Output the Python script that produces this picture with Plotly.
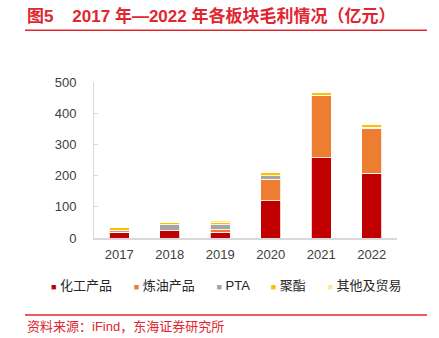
import plotly.graph_objects as go

# Gross profit by segment, 2017-2022 (100 million yuan)
years = ["2017", "2018", "2019", "2020", "2021", "2022"]
chemicals = [17, 23, 19, 119, 258, 207]
refining = [1, 1, 8, 70, 198, 144]
pta = [6, 18, 15, 10, 2, 4]
polyester = [10, 9, 9, 10, 9, 10]
other_trade = [2, 1, 5, 2, 1, 2]

series_names = ["化工产品", "炼油产品", "PTA", "聚酯", "其他及贸易"]
series_values = [chemicals, refining, pta, polyester, other_trade]
series_colors = ["#C00000", "#ED7D31", "#A5A5A5", "#FFC000", "#FFE699"]

FONT = "Liberation Sans, Noto Sans CJK SC, sans-serif"
RED = "#E0262E"

fig = go.Figure()
for name, vals, col in zip(series_names, series_values, series_colors):
    fig.add_trace(go.Bar(
        x=years, y=vals, name=name,
        marker=dict(color=col, line=dict(color="white", width=0.8)),
        showlegend=False,
    ))

# compact legend row built from the series list
legend_text = "      ".join(
    f"<span style='color:{c};font-size:9px'>■</span> {n}"
    for n, c in zip(series_names, series_colors)
)

PH = 156.5  # plot height in px


def py(px_from_top):
    return (338 - px_from_top - 100) / PH


fig.update_layout(
    width=439, height=338,
    margin=dict(l=94, r=42, t=82, b=100),
    barmode="stack", bargap=0.6,
    plot_bgcolor="white", paper_bgcolor="white",
    font=dict(family=FONT, size=13, color="#404040"),
    xaxis=dict(
        showline=True, linecolor="#D9D9D9", linewidth=1.5,
        ticks="", showgrid=False, ticklabelstandoff=4,
        tickfont=dict(size=13, color="#404040"),
    ),
    yaxis=dict(
        range=[0, 500], tickvals=[0, 100, 200, 300, 400, 500],
        showline=True, linecolor="#D9D9D9", linewidth=1,
        ticks="inside", ticklen=4, tickcolor="#D9D9D9",
        showgrid=False, zeroline=False, ticklabelstandoff=14,
        tickfont=dict(size=13, color="#404040"),
    ),
    shapes=[
        dict(type="line", xref="paper", yref="paper",
             x0=-69 / 303, x1=333 / 303, y0=py(29.5), y1=py(29.5),
             line=dict(color=RED, width=1.5)),
        dict(type="line", xref="paper", yref="paper",
             x0=-69 / 303, x1=333 / 303, y0=py(315.3), y1=py(315.3),
             line=dict(color=RED, width=1.5)),
    ],
    annotations=[
        dict(text="<b>图5    2017 年—2022 年各板块毛利情况（亿元）</b>",
             xref="paper", yref="paper", x=-69 / 303, y=py(15),
             xanchor="left", yanchor="middle", showarrow=False,
             font=dict(family=FONT, size=17, color=RED)),
        dict(text=legend_text,
             xref="paper", yref="paper", x=(49 - 94) / 303, y=py(285.7),
             xanchor="left", yanchor="middle", showarrow=False,
             font=dict(family=FONT, size=13, color="#262626")),
        dict(text="资料来源：iFind，东海证券研究所",
             xref="paper", yref="paper", x=-69 / 303, y=py(327),
             xanchor="left", yanchor="middle", showarrow=False,
             font=dict(family=FONT, size=13, color=RED)),
    ],
)

fig.write_html("out.html")
